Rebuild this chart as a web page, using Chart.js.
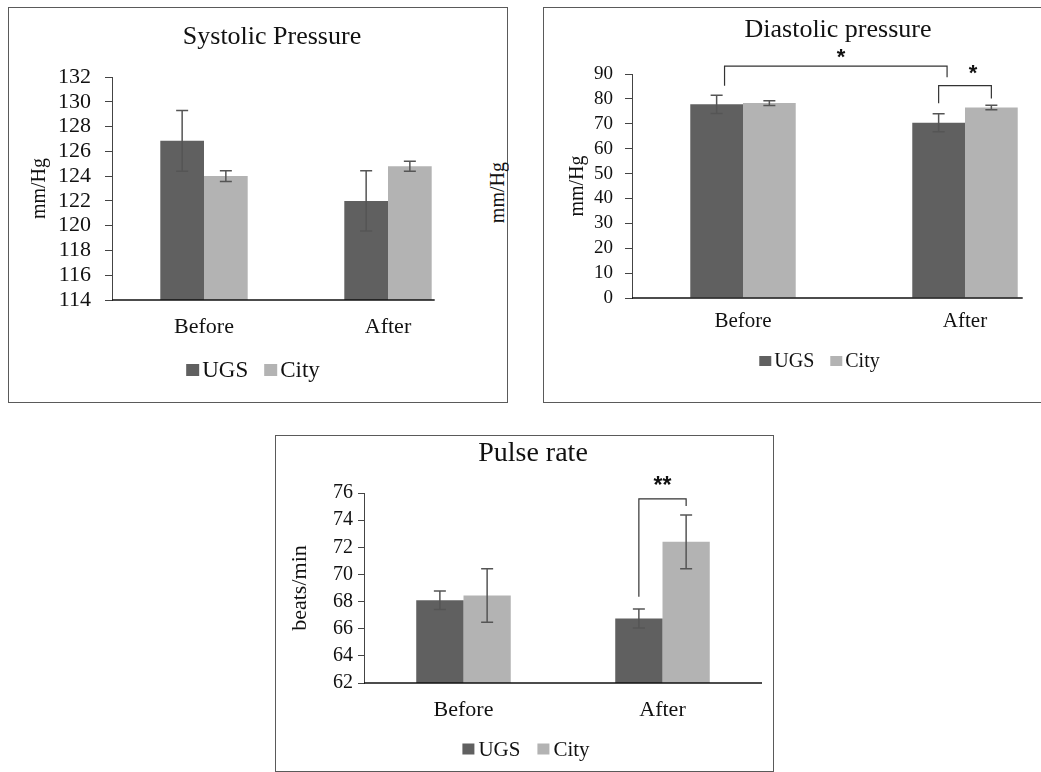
<!DOCTYPE html>
<html>
<head>
<meta charset="utf-8">
<title>Blood pressure and pulse rate</title>
<script src="https://cdn.jsdelivr.net/npm/chart.js@4.4.1/dist/chart.umd.min.js"></script>
<style>
   html, body { margin: 0; padding: 0; background: #fff; width: 1041px; height: 772px; overflow: hidden; position: relative; }
   .frame { position: absolute; box-sizing: border-box; border: 1.5px solid #5a5a5a; }
   canvas { position: absolute; }
   .stray { position: absolute; font: 20px 'Liberation Serif', 'Times New Roman', serif; color: #111;
            writing-mode: vertical-rl; transform: rotate(180deg); line-height: 20px; }
</style>
</head>
<body>
<div class="frame" style="left:8px; top:7px; width:500px; height:396px;"></div>
<div class="frame" style="left:543px; top:7px; width:520px; height:396px;"></div>
<div class="frame" style="left:275px; top:435px; width:499px; height:337px;"></div>
<div class="stray" style="left:487px; top:162px;">mm/Hg</div>

<canvas id="systolicChart" width="528" height="395" style="left:8px; top:7px;"></canvas>
<canvas id="diastolicChart" width="590" height="395" style="left:543px; top:7px;"></canvas>
<canvas id="pulseChart" width="516" height="336" style="left:275px; top:435px;"></canvas>

<script>
// #region Data
const groups = ['Before', 'After'];
const seriesNames = ['UGS', 'City'];
const seriesColors = ['#606060', '#b3b3b3'];

const systolicUGS = [126.85, 122.0];
const systolicCity = [124.0, 124.8];
const systolicUGSErr = [2.45, 2.43];
const systolicCityErr = [0.43, 0.4];
const systolicTicks = [114, 116, 118, 120, 122, 124, 126, 128, 130, 132];

const diastolicUGS = [77.8, 70.4];
const diastolicCity = [78.3, 76.5];
const diastolicUGSErr = [3.7, 3.6];
const diastolicCityErr = [1.0, 0.9];
const diastolicTicks = [0, 10, 20, 30, 40, 50, 60, 70, 80, 90];

const pulseUGS = [68.1, 66.75];
const pulseCity = [68.45, 72.4];
const pulseUGSErr = [0.68, 0.7];
const pulseCityErr = [1.97, 1.98];
const pulseTicks = [62, 64, 66, 68, 70, 72, 74, 76];

// significance brackets: bar = [dataset, index], levels in axis units
const diastolicBrackets = [
   { from: [0, 0], to: [0, 1], top: 93.2, fromEnd: 85.3, toEnd: 88.7, text: '*', textAt: 96.6 },
   { from: [0, 1], to: [1, 1], top: 85.3, fromEnd: 78.2, toEnd: 80.2, text: '*', textAt: 90.1 }
];
const pulseBrackets = [
   { from: [0, 1], to: [1, 1], top: 75.56, fromEnd: 68.36, toEnd: 75.04, text: '**', textAt: 76.5 }
];
// #endregion

const SERIF = "'Liberation Serif', 'Times New Roman', serif";

// #region Plugins

// ***********************
// Name:    panelTitlePlugin
// Purpose: Draws the panel heading at its own centre (the panel is wider than the plot)
// *************************
const panelTitlePlugin = {
   id: 'panelTitle',
   afterDraw(chart, args, opts) {
      const ctx = chart.ctx;
      ctx.save();
      ctx.font = opts.font;
      ctx.fillStyle = '#111';
      ctx.textAlign = 'center';
      ctx.textBaseline = 'middle';
      ctx.fillText(opts.text, opts.x, opts.y);
      ctx.restore();
   }
};

// ***********************
// Name:    errorBarPlugin
// Purpose: Draws +/- error whiskers on each bar from dataset.errors
// *************************
const errorBarPlugin = {
   id: 'errorBars',
   afterDatasetsDraw(chart, args, opts) {
      const ctx = chart.ctx;
      const yScale = chart.scales.y;
      ctx.save();
      ctx.strokeStyle = opts.color || '#555';
      ctx.lineWidth = opts.width || 1.5;
      chart.data.datasets.forEach((ds, i) => {
         chart.getDatasetMeta(i).data.forEach((bar, j) => {
            const top = yScale.getPixelForValue(ds.data[j] + ds.errors[j]);
            const bot = yScale.getPixelForValue(ds.data[j] - ds.errors[j]);
            const cap = opts.cap || 6;
            ctx.beginPath();
            ctx.moveTo(bar.x, top); ctx.lineTo(bar.x, bot);
            ctx.moveTo(bar.x - cap, top); ctx.lineTo(bar.x + cap, top);
            ctx.moveTo(bar.x - cap, bot); ctx.lineTo(bar.x + cap, bot);
            ctx.stroke();
         });
      });
      ctx.restore();
   }
};

// ***********************
// Name:    baselinePlugin
// Purpose: Draws the category axis line, optionally stopping just past the last bar
// *************************
const baselinePlugin = {
   id: 'baseline',
   afterDatasetsDraw(chart, args, opts) {
      const {ctx, chartArea} = chart;
      let end = chartArea.right;
      if (opts.toLastBar) {
         const meta = chart.getDatasetMeta(chart.data.datasets.length - 1);
         const bar = meta.data[meta.data.length - 1];
         end = bar.x + bar.width / 2 + opts.overhang;
      }
      ctx.save();
      ctx.strokeStyle = '#111';
      ctx.lineWidth = 1.5;
      ctx.beginPath();
      ctx.moveTo(chartArea.left, chartArea.bottom);
      ctx.lineTo(end, chartArea.bottom);
      ctx.stroke();
      ctx.restore();
   }
};

// ***********************
// Name:    bracketPlugin
// Purpose: Draws significance brackets with their star labels
// *************************
const bracketPlugin = {
   id: 'brackets',
   afterDatasetsDraw(chart, args, opts) {
      const ctx = chart.ctx;
      const yScale = chart.scales.y;
      ctx.save();
      ctx.strokeStyle = '#333';
      ctx.lineWidth = 1.2;
      ctx.fillStyle = '#111';
      ctx.font = opts.font;
      ctx.textAlign = 'center';
      ctx.textBaseline = 'middle';
      (opts.items || []).forEach(b => {
         const barA = chart.getDatasetMeta(b.from[0]).data[b.from[1]];
         const barB = chart.getDatasetMeta(b.to[0]).data[b.to[1]];
         const x1 = barA.x + (b.fromDx || 0) * barA.width;
         const x2 = barB.x + (b.toDx || 0) * barB.width;
         const yTop = yScale.getPixelForValue(b.top);
         ctx.beginPath();
         ctx.moveTo(x1, yScale.getPixelForValue(b.fromEnd));
         ctx.lineTo(x1, yTop);
         ctx.lineTo(x2, yTop);
         ctx.lineTo(x2, yScale.getPixelForValue(b.toEnd));
         ctx.stroke();
         const tx = (x1 + x2) / 2 + (b.textDx || 0) * barA.width;
         ctx.fillText(b.text, tx, yScale.getPixelForValue(b.textAt));
      });
      ctx.restore();
   }
};

// ***********************
// Name:    boxLegendPlugin
// Purpose: Compact legend (square swatch tight against its label)
// *************************
const boxLegendPlugin = {
   id: 'boxLegend',
   afterDraw(chart, args, opts) {
      const ctx = chart.ctx;
      ctx.save();
      ctx.font = opts.font;
      ctx.textBaseline = 'middle';
      ctx.textAlign = 'left';
      const items = chart.data.datasets.map(ds => ({
         text: ds.label, color: ds.backgroundColor, w: ctx.measureText(ds.label).width
      }));
      let total = 0;
      items.forEach((it, i) => { total += opts.boxW + opts.gap + it.w + (i ? opts.spacing : 0); });
      let x = opts.x - total / 2;
      items.forEach(it => {
         ctx.fillStyle = it.color;
         ctx.fillRect(x, opts.y - opts.boxH / 2, opts.boxW, opts.boxH);
         ctx.fillStyle = '#111';
         ctx.fillText(it.text, x + opts.boxW + opts.gap, opts.y + 1);
         x += opts.boxW + opts.gap + it.w + opts.spacing;
      });
      ctx.restore();
   }
};
// #endregion

// #region Chart Builder

// ***********************
// Name:    buildChart
// Purpose: Creates one grouped bar panel
//    Args: canvasId, cfg (data + layout for the panel)
//  Return: Chart
// *************************
function buildChart(canvasId, cfg) {
   const datasets = cfg.values.map((vals, i) => ({
      label: seriesNames[i],
      data: vals,
      errors: cfg.errors[i],
      backgroundColor: seriesColors[i],
      borderWidth: 0,
      categoryPercentage: 0.475,
      barPercentage: 1.0
   }));

   return new Chart(document.getElementById(canvasId), {
      type: 'bar',
      data: { labels: groups, datasets: datasets },
      options: {
         responsive: false,
         animation: false,
         events: [],
         layout: { padding: cfg.padding },
         plugins: {
            legend: { display: false },
            tooltip: { enabled: false },
            title: { display: false },
            panelTitle: cfg.title,
            errorBars: { color: '#555', width: 1.5, cap: 6 },
            baseline: { toLastBar: cfg.axisToLastBar, overhang: cfg.axisOverhang },
            brackets: { items: cfg.brackets, font: cfg.starFont },
            boxLegend: cfg.legend
         },
         scales: {
            x: {
               grid: { display: false, drawTicks: false },
               border: { display: false },
               ticks: { color: '#111', font: { family: SERIF, size: cfg.xFont }, padding: cfg.xPad },
               afterFit: (scale) => { scale.height = 40; }
            },
            y: {
               min: cfg.ticks[0],
               max: cfg.ticks[cfg.ticks.length - 1],
               afterBuildTicks: (scale) => { scale.ticks = cfg.ticks.map(v => ({ value: v })); },
               grid: { drawOnChartArea: false, tickLength: cfg.tickLen, color: '#444' },
               border: { color: '#444', width: 1 },
               ticks: { color: '#111', autoSkip: false, font: { family: SERIF, size: cfg.yFont }, padding: cfg.yPad },
               title: {
                  display: true,
                  text: cfg.yTitle,
                  color: '#111',
                  font: { family: SERIF, size: cfg.yTitleSize },
                  padding: { top: cfg.yTitlePad, bottom: 0 }
               },
               afterFit: (scale) => { scale.width = cfg.yWidth; }
            }
         }
      },
      plugins: [errorBarPlugin, baselinePlugin, bracketPlugin, boxLegendPlugin, panelTitlePlugin]
   });
}
// #endregion

buildChart('systolicChart', {
   title: { text: 'Systolic Pressure', x: 264, y: 30, font: `26px ${SERIF}` },
   values: [systolicUGS, systolicCity], errors: [systolicUGSErr, systolicCityErr],
   ticks: systolicTicks, yTitle: 'mm/Hg', yTitleSize: 20, yTitlePad: 19.5,
   padding: { top: 70, left: 0, right: 56, bottom: 62 },
   yWidth: 104, tickLen: 7, yPad: 14, yFont: 22, xFont: 22, xPad: 14,
   axisToLastBar: true, axisOverhang: 3,
   brackets: [], starFont: "bold 22px 'Liberation Sans', sans-serif",
   legend: { x: 245, y: 363, font: `23px ${SERIF}`, boxW: 13, boxH: 12, gap: 3, spacing: 16 }
});

buildChart('diastolicChart', {
   title: { text: 'Diastolic pressure', x: 295, y: 23, font: `26px ${SERIF}` },
   values: [diastolicUGS, diastolicCity], errors: [diastolicUGSErr, diastolicCityErr],
   ticks: diastolicTicks, yTitle: 'mm/Hg', yTitleSize: 20, yTitlePad: 22.5,
   padding: { top: 67, left: 0, right: 57, bottom: 64 },
   yWidth: 89, tickLen: 7, yPad: 12, yFont: 19, xFont: 21, xPad: 11,
   axisToLastBar: true, axisOverhang: 5,
   brackets: diastolicBrackets.map((b, i) => i === 0 ? Object.assign({ fromDx: 0.15, toDx: 0.16, textDx: 0.1 }, b) : Object.assign({ textDx: 0.15 }, b)),
   starFont: "bold 22px 'Liberation Sans', sans-serif",
   legend: { x: 276.5, y: 354, font: `20px ${SERIF}`, boxW: 12, boxH: 10, gap: 3, spacing: 16 }
});

buildChart('pulseChart', {
   title: { text: 'Pulse rate', x: 258, y: 19, font: `28px ${SERIF}` },
   values: [pulseUGS, pulseCity], errors: [pulseUGSErr, pulseCityErr],
   ticks: pulseTicks, yTitle: 'beats/min', yTitleSize: 22, yTitlePad: 11.8,
   padding: { top: 58, left: 0, right: 29, bottom: 48 },
   yWidth: 89, tickLen: 6, yPad: 5, yFont: 20, xFont: 22, xPad: 14,
   axisToLastBar: false, axisOverhang: 0,
   brackets: pulseBrackets, starFont: "bold 23px 'Liberation Sans', sans-serif",
   legend: { x: 251, y: 314, font: `21px ${SERIF}`, boxW: 12, boxH: 11, gap: 4, spacing: 17 }
});
</script>
</body>
</html>
